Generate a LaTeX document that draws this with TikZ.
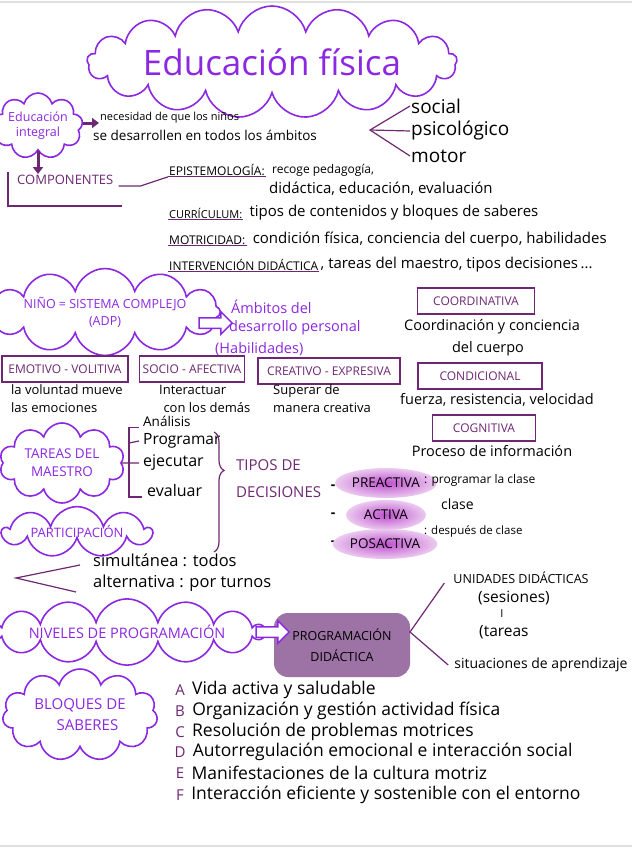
\documentclass[tikz,border=0pt]{standalone}
\usepackage{fontspec}
\setmainfont{Open Sans}
\usepackage{tikz}
\usetikzlibrary{shapes.symbols,shapes.arrows,shapes.geometric,arrows.meta,positioning,decorations.pathreplacing}
\definecolor{violeta}{RGB}{140,40,225}
\definecolor{morado}{RGB}{110,40,115}
\definecolor{rosa}{RGB}{190,80,205}
\definecolor{ciruela}{RGB}{140,90,150}

\begin{document}
\begin{tikzpicture}[x=1pt, y=-1pt,
  every node/.style={font=\fontsize{12}{14}\selectfont, inner sep=1pt},
  nube/.style={cloud, cloud ignores aspect, draw=violeta, line width=1.6pt, text=violeta,
    align=center, inner sep=0pt, font=\fontsize{13.5}{18}\selectfont},
  caja/.style={draw=morado, line width=1.2pt, text=morado, font=\fontsize{12}{14}\selectfont,
    inner sep=3pt, minimum height=26pt},
  nota/.style={anchor=west},
  cuerpo/.style={anchor=west, font=\fontsize{15}{17}\selectfont},
  titulillo/.style={anchor=west, font=\fontsize{12}{14}\selectfont},
  flecha/.style={-{Triangle[length=7pt,width=10pt]}, morado, line width=3pt},
  hueca/.style={single arrow, draw=violeta, fill=white, line width=1.5pt, minimum height=33pt,
    minimum width=22pt, single arrow head extend=6pt, inner sep=4.5pt},
  rama/.style={morado, line width=1.2pt},
  resalte/.style={ellipse, inner color=rosa, outer color=rosa!30, inner sep=2pt,
    font=\fontsize{13.5}{15}\selectfont},
  bloque/.style={text=morado, font=\fontsize{15}{17}\selectfont},
  saber/.style={anchor=west, font=\fontsize{17.5}{19}\selectfont}
]
  \useasboundingbox (0,0) rectangle (632,848);
  \fill[white] (0,0) rectangle (632,848);
  \draw[gray!25, line width=2pt] (0,2) -- (632,2);
  \draw[gray!25, line width=2pt] (0,846) -- (632,846);

  % titulo
  \node[nube, cloud puffs=17, minimum width=370pt, minimum height=112pt,
    font=\fontsize{35}{40}\selectfont] (titulo) at (272,62) {Educación física};

  % educacion integral
  \node[nube, cloud puffs=9, minimum width=80pt, minimum height=66pt,
    font=\fontsize{12.5}{15}\selectfont] (integral) at (38,126) {Educación\\integral};
  \node[nota, font=\fontsize{11}{13}\selectfont] (necesidad) at (99,118) {necesidad de que los niños};
  \node[nota, font=\fontsize{13.5}{15}\selectfont] (desarrollen) at (92,135) {se desarrollen en todos los ámbitos};
  \draw[flecha] ([yshift=3pt]integral.east) -- ([yshift=3pt]integral.east -| necesidad.west);
  \node[nota, font=\fontsize{19}{21}\selectfont] (social) at (410,106) {social};
  \node[nota, font=\fontsize{19}{21}\selectfont] (psico) at (410,131) {psicológico};
  \node[nota, font=\fontsize{19}{21}\selectfont] (motor) at (410,156) {motor};
  \coordinate (puntaA) at (370,130);
  \draw[rama] (social.west) -- (puntaA) -- (motor.west);
  \draw[rama] (puntaA) -- (psico.west);

  % componentes
  \node[nota, text=morado, font=\fontsize{13}{15}\selectfont] (componentes) at (16,180) {COMPONENTES};
  \draw[flecha] (integral.south) -- (integral.south |- componentes.north);
  \draw[rama] (8,172) |- (122,206);
  \node[titulillo] (epis) at (168,170) {EPISTEMOLOGÍA:};
  \node[nota, right=5pt of epis] (episA) {recoge pedagogía,};
  \node[cuerpo] (episB) at (268,189) {didáctica, educación, evaluación};
  \draw[rama] ([xshift=4pt]componentes.south east) -- ++(22,0) -- (epis.south west);
  \node[titulillo, font=\fontsize{11}{14}\selectfont] (curr) at (168,213) {CURRÍCULUM:};
  \node[cuerpo, right=5pt of curr] (currT) {tipos de contenidos y bloques de saberes};
  \node[titulillo] (motr) at (168,240) {MOTRICIDAD:};
  \node[cuerpo, right=5pt of motr] (motrT) {condición física, conciencia del cuerpo, habilidades};
  \node[titulillo] (interv) at (168,265) {INTERVENCIÓN DIDÁCTICA};
  \node[cuerpo, right=0pt of interv] (intervT) {, tareas del maestro, tipos decisiones\,...};
  \draw[rama] (epis.south west) -- (epis.south east);
  \draw[rama] (curr.south west) -- (curr.south east);
  \draw[rama] (motr.south west) -- (motr.south east);
  \draw[rama] (interv.south west) -- (interv.south east);

  % nino sistema complejo
  \node[nube, cloud puffs=12, minimum width=212pt, minimum height=64pt,
    font=\fontsize{12.5}{17}\selectfont] (nino) at (105,312) {NIÑO = SISTEMA COMPLEJO\\(ADP)};
  \node[hueca] (flechaA) at (213,323) {};
  \node[nota, text=violeta, font=\fontsize{14.5}{16}\selectfont] (ambitosA) at (230,307) {Ámbitos del};
  \node[nota, text=violeta, font=\fontsize{14.5}{16}\selectfont] (ambitosB) at (228,328) {desarrollo personal};
  \node[nota, text=violeta, font=\fontsize{14.5}{16}\selectfont] (ambitosC) at (214,349) {(Habilidades)};

  \node[caja, minimum width=126pt] (emotivo) at (65,369) {EMOTIVO - VOLITIVA};
  \node[caja, minimum width=105pt] (socio) at (192,369) {SOCIO - AFECTIVA};
  \node[caja, minimum width=142pt] (creativo) at (329,371) {CREATIVO - EXPRESIVA};
  \node[nota, align=left, font=\fontsize{13}{18}\selectfont] (emotivoT) at (10,399) {la voluntad mueve\\las emociones};
  \node[nota, align=left, font=\fontsize{13}{18}\selectfont] (socioT) at (158,399) {Interactuar\\\,\,con los demás};
  \node[nota, align=left, font=\fontsize{13}{18}\selectfont] (creativoT) at (272,399) {Superar de\\manera creativa};

  % capacidades
  \node[caja, minimum width=117pt] (coord) at (476,301) {COORDINATIVA};
  \node[font=\fontsize{14.5}{16}\selectfont] (coordT) at (492,327) {Coordinación y conciencia};
  \node[font=\fontsize{14.5}{16}\selectfont] (coordU) at (488,349) {del cuerpo};
  \node[caja, minimum width=124pt] (cond) at (480,376) {CONDICIONAL};
  \node[font=\fontsize{14.5}{16}\selectfont] (condT) at (497,400) {fuerza, resistencia, velocidad};
  \node[caja, minimum width=103pt] (cogn) at (484,428) {COGNITIVA};
  \node[font=\fontsize{14.5}{16}\selectfont] (cognT) at (492,451) {Proceso de información};

  % tareas del maestro
  \node[nube, cloud puffs=10, minimum width=125pt, minimum height=80pt] (tareas) at (62,463)
    {TAREAS DEL\\MAESTRO};
  \node[nota, font=\fontsize{13.5}{15}\selectfont] (analisis) at (142,421) {Análisis};
  \node[nota, font=\fontsize{15.5}{17}\selectfont] (programar) at (142,441) {Programar};
  \node[nota, font=\fontsize{16}{18}\selectfont] (ejecutar) at (142,463) {ejecutar};
  \node[nota, font=\fontsize{16}{18}\selectfont] (evaluar) at (146,490) {evaluar};
  \draw[rama] ([xshift=-3pt]analisis.south west) -| (129,497) -- ([xshift=-4pt]evaluar.west |- 0,497);
  \draw[rama] (tareas.east) -- ([xshift=-3pt]ejecutar.west);
  \draw[rama] (129,443) -- ([xshift=-3pt]programar.west);
  \draw[rama, decorate, decoration={brace, amplitude=10pt, aspect=0.32}] (214,432) -- (214,552);
  \node[nota, text=morado, font=\fontsize{15}{17}\selectfont] (tipos) at (235,465) {TIPOS DE};
  \node[nota, text=morado, font=\fontsize{15}{17}\selectfont] (decisiones) at (235,492) {DECISIONES};

  \node[font=\bfseries\fontsize{14}{16}\selectfont] (guionA) at (333,487) {-};
  \node[font=\bfseries\fontsize{14}{16}\selectfont] (guionB) at (333,515) {-};
  \node[font=\bfseries\fontsize{14}{16}\selectfont] (guionC) at (333,543) {-};
  \node[resalte, minimum width=88pt, minimum height=30pt] (preactiva) at (386,483) {PREACTIVA};
  \node[resalte, minimum width=80pt, minimum height=30pt] (activa) at (386,515) {ACTIVA};
  \node[resalte, minimum width=84pt, minimum height=30pt] (posactiva) at (385,544) {POSACTIVA};
  \node[nota, font=\fontsize{12}{14}\selectfont] (preactivaT) at (423,480) {: programar la clase};
  \node[nota, font=\fontsize{14}{16}\selectfont] (activaT) at (440,504) {clase};
  \node[nota, font=\fontsize{11.5}{13}\selectfont] (posactivaT) at (423,531) {: después de clase};

  % participacion
  \node[nube, cloud puffs=9, minimum width=148pt, minimum height=50pt,
    font=\fontsize{13}{15}\selectfont] (participa) at (77,532) {PARTICIPACIÓN};
  \node[nota, font=\fontsize{16.5}{18}\selectfont] (simultanea) at (92,560) {simultánea : todos};
  \node[nota, font=\fontsize{16.5}{18}\selectfont] (alternativa) at (92,583) {alternativa : por turnos};
  \coordinate (puntaP) at (16,578);
  \draw[rama] ([xshift=-12pt,yshift=-5pt]simultanea.west) -- (puntaP) -- ([xshift=-16pt,yshift=-9pt]alternativa.west);

  % niveles de programacion
  \node[nube, cloud puffs=14, minimum width=248pt, minimum height=56pt,
    font=\fontsize{14.5}{16}\selectfont] (niveles) at (127,632) {NIVELES DE PROGRAMACIÓN};
  \node[rectangle, rounded corners=14pt, fill=ciruela, fill opacity=0.85, text opacity=1,
    minimum width=136pt, minimum height=64pt, align=center, font=\fontsize{12.5}{21}\selectfont]
    (progdid) at (342,645) {PROGRAMACIÓN\\DIDÁCTICA};
  \node[hueca] (flechaB) at (270,632) {};
  \node[font=\fontsize{12.5}{14}\selectfont] (unidades) at (521,578) {UNIDADES DIDÁCTICAS};
  \node[nota, font=\fontsize{15.5}{17}\selectfont] (sesiones) at (477,598) {(sesiones)};
  \node[font=\fontsize{11}{13}\selectfont] (barra) at (502,614) {I};
  \node[nota, font=\fontsize{15.5}{17}\selectfont] (tareasU) at (478,632) {(tareas};
  \node[font=\fontsize{14}{16}\selectfont] (situaciones) at (541,665) {situaciones de aprendizaje};
  \coordinate (puntaN) at (410,632);
  \draw[rama] ([xshift=-8pt,yshift=2pt]unidades.south west) -- (puntaN) -- ([xshift=-5pt]situaciones.west);

  % bloques de saberes
  \node[nube, cloud puffs=11, minimum width=155pt, minimum height=92pt,
    font=\fontsize{15}{21}\selectfont] (bloques) at (80,715) {BLOQUES DE\\\quad SABERES};
  \node[bloque] (bloqueA) at (180,690) {A};
  \node[saber, right=5pt of bloqueA] {Vida activa y saludable};
  \node[bloque] (bloqueB) at (180,711) {B};
  \node[saber, right=5pt of bloqueB] {Organización y gestión actividad física};
  \node[bloque] (bloqueC) at (180,732) {C};
  \node[saber, right=5pt of bloqueC] {Resolución de problemas motrices};
  \node[bloque] (bloqueD) at (180,752) {D};
  \node[saber, right=5pt of bloqueD] {Autorregulación emocional e interacción social};
  \node[bloque] (bloqueE) at (180,773) {E};
  \node[saber, right=5pt of bloqueE] {Manifestaciones de la cultura motriz};
  \node[bloque] (bloqueF) at (180,795) {F};
  \node[saber, right=5pt of bloqueF] {Interacción eficiente y sostenible con el entorno};
\end{tikzpicture}
\end{document}
